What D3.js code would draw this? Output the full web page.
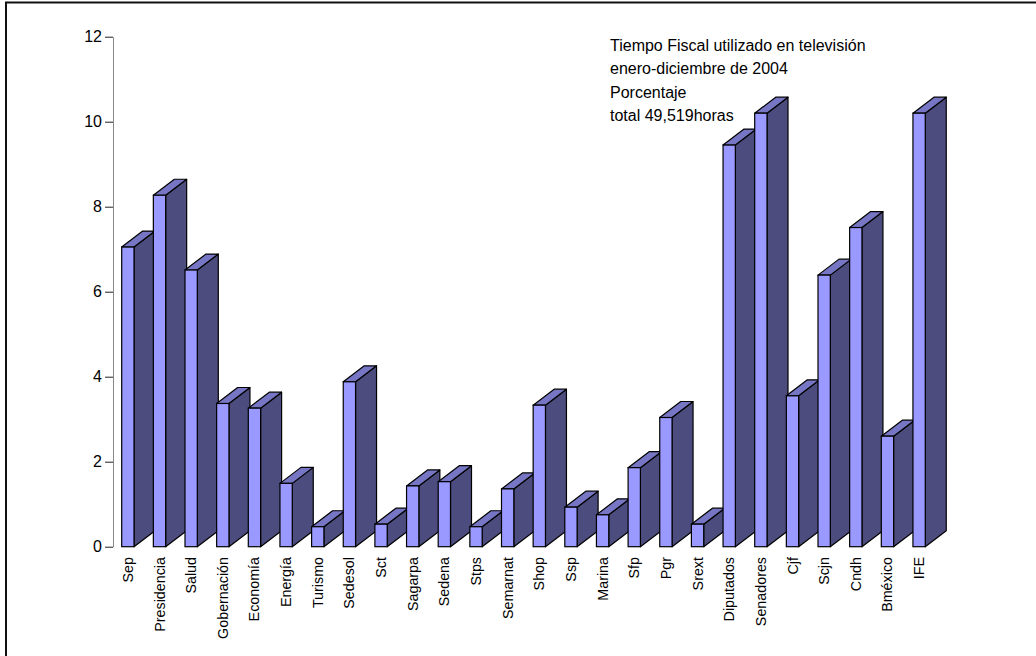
<!DOCTYPE html>
<html>
<head>
<meta charset="utf-8">
<script src="https://cdn.jsdelivr.net/npm/d3@7"></script>
<style>
  html, body { margin: 0; padding: 0; background: #fff; }
  svg { display: block; font-family: "Liberation Sans", Arial, sans-serif; }
  .cat-label { font-size: 14.3px; fill: #000; }
  .title { font-size: 16px; fill: #000; }
</style>
</head>
<body>
<svg id="chart" width="1036" height="656"></svg>
<script>
// categories and values (porcentaje del tiempo fiscal)
var categories = ['Sep', 'Presidencia', 'Salud', 'Gobernación', 'Economía', 'Energía', 'Turismo',
  'Sedesol', 'Sct', 'Sagarpa', 'Sedena', 'Stps', 'Semarnat', 'Shop', 'Ssp', 'Marina', 'Sfp',
  'Pgr', 'Srext', 'Diputados', 'Senadores', 'Cjf', 'Scjn', 'Cndh', 'Bméxico', 'IFE'];
var values = [7.05, 8.27, 6.51, 3.37, 3.26, 1.49, 0.47,
  3.88, 0.53, 1.43, 1.53, 0.47, 1.36, 3.33, 0.93, 0.75, 1.86,
  3.04, 0.53, 9.45, 10.2, 3.55, 6.39, 7.51, 2.6, 10.2];
var yTicks = [0, 2, 4, 6, 8, 10, 12];
var titleLines = ['Tiempo Fiscal utilizado en televisión', 'enero-diciembre de 2004',
  'Porcentaje', 'total 49,519horas'];

var svg = d3.select('#chart');

// outer frame (only top/left edges visible in the original)
svg.append('path')
  .attr('d', 'M6,660 L6,2.5 L1040,2.5')
  .attr('fill', 'none')
  .attr('stroke', '#111')
  .attr('stroke-width', 2);

var y = d3.scaleLinear().domain([0, 12]).range([546.7, 36.7]);
var x = d3.scaleBand().domain(categories).range([113, 113 + 26 * 31.65]);

var offset = 8.7, faceW = 12.3, dx = 21, dy = -16;

var bars = svg.append('g').selectAll('g')
  .data(categories.map(function(c, i) { return { cat: c, v: values[i] }; }))
  .enter().append('g');

bars.each(function(d) {
  var g = d3.select(this);
  var x0 = x(d.cat) + offset, x1 = x0 + faceW;
  var yt = y(d.v), yb = y(0);
  // side
  g.append('path')
    .attr('d', 'M' + x1 + ',' + yb + 'L' + (x1 + dx) + ',' + (yb + dy) +
      'L' + (x1 + dx) + ',' + (yt + dy) + 'L' + x1 + ',' + yt + 'Z')
    .attr('fill', '#4c4c7f').attr('stroke', '#000').attr('stroke-width', 1.2)
    .attr('stroke-linejoin', 'round');
  // top
  g.append('path')
    .attr('d', 'M' + x0 + ',' + yt + 'L' + (x0 + dx) + ',' + (yt + dy) +
      'L' + (x1 + dx) + ',' + (yt + dy) + 'L' + x1 + ',' + yt + 'Z')
    .attr('fill', '#7676c4').attr('stroke', '#000').attr('stroke-width', 1.2)
    .attr('stroke-linejoin', 'round');
  // front
  g.append('rect')
    .attr('x', x0).attr('y', yt)
    .attr('width', faceW).attr('height', yb - yt)
    .attr('fill', '#9999ff').attr('stroke', '#000').attr('stroke-width', 1.2);
});

// y axis
var yAxis = svg.append('g')
  .attr('transform', 'translate(113,0)')
  .call(d3.axisLeft(y).tickValues(yTicks).tickSize(8).tickSizeOuter(0).tickPadding(3));

yAxis.select('path.domain').attr('stroke', '#888');
yAxis.selectAll('.tick line').attr('stroke', '#222');
yAxis.selectAll('.tick text')
  .style('font-family', '"Liberation Sans", Arial, sans-serif')
  .style('font-size', '16px')
  .attr('fill', '#000');

// category labels
svg.append('g').selectAll('text')
  .data(categories)
  .enter().append('text')
  .attr('class', 'cat-label')
  .attr('transform', function(d) {
    return 'translate(' + (x(d) + offset + faceW / 2 + 5) + ',557) rotate(-90)';
  })
  .attr('text-anchor', 'end')
  .text(function(d) { return d; });

// title block
svg.append('g').selectAll('text')
  .data(titleLines)
  .enter().append('text')
  .attr('class', 'title')
  .attr('x', 610)
  .attr('y', function(d, i) { return 51 + i * 23.4; })
  .text(function(d) { return d; });
</script>
</body>
</html>
